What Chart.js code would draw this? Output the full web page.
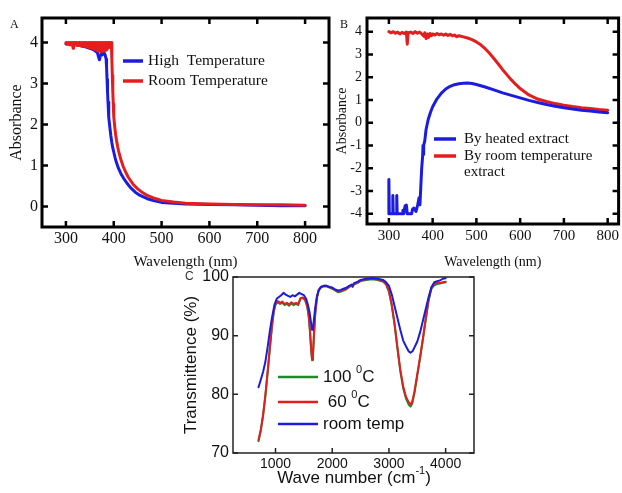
<!DOCTYPE html>
<html>
<head>
<meta charset="utf-8">
<script src="https://cdn.jsdelivr.net/npm/chart.js@4.4.0/dist/chart.umd.min.js"></script>
<style>
  body { margin: 0; background: #fff; }
  #wrap { position: relative; width: 622px; height: 493px; overflow: hidden; background: #fff; }
  canvas { position: absolute; }
</style>
</head>
<body>
<div id="wrap">
  <canvas id="chartA" width="335" height="275" style="left:0;top:0"></canvas>
  <canvas id="chartB" width="300" height="275" style="left:322px;top:0"></canvas>
  <canvas id="chartC" width="310" height="231" style="left:170px;top:262px"></canvas>
</div>
<script>
// ---- A: absorbance of the two extracts, wavelength in nm ----
const labelsA = ['High  Temperature', 'Room Temperature'];
const highTempA = [
  [300,3.97],[305,3.98],[310,3.99],[315,3.96],[320,3.95],[325,3.94],[330,3.93],[335,3.91],[340,3.9],
  [345,3.88],[350,3.86],[355,3.84],[360,3.81],[363,3.78],[366,3.75],[368,3.66],[370,3.58],[372,3.68],
  [374,3.72],[376,3.7],[378,3.76],[380,3.75],[382,3.7],[384,3.6],[385,3.4],[386,3.1],[387,2.8],
  [388,2.55],[389,2.35],[390,2.18],[392,1.92],[394,1.72],[396,1.56],[398,1.43],[400,1.33],[403,1.18],
  [406,1.06],[410,0.93],[415,0.8],[420,0.7],[427,0.58],[435,0.46],[445,0.35],[455,0.27],[470,0.19],
  [485,0.14],[500,0.1],[525,0.08],[550,0.06],[600,0.05],[650,0.04],[700,0.03],[750,0.02],[800,0.02]
];
const roomTempA = [
  [300,4.0],[301,3.96],[302,4.0],[304,3.96],[305,4.0],[307,3.95],[308,4.0],[310,3.95],[311,4.0],
  [313,3.93],[314,4.0],[315,3.86],[316,4.0],[318,3.94],[319,4.0],[321,3.94],[322,4.0],[324,3.93],
  [325,4.0],[327,3.93],[328,4.0],[330,3.92],[331,4.0],[333,3.92],[334,4.0],[336,3.91],[337,4.0],
  [339,3.91],[340,4.0],[342,3.9],[343,4.0],[345,3.89],[346,4.0],[348,3.88],[349,4.0],[351,3.87],
  [352,4.0],[354,3.86],[355,4.0],[357,3.85],[358,4.0],[360,3.84],[361,4.0],[363,3.82],[364,4.0],
  [366,3.8],[367,4.0],[369,3.79],[370,4.0],[372,3.78],[373,4.0],[375,3.78],[376,4.0],[378,3.79],
  [379,4.0],[381,3.8],[382,4.0],[384,3.82],[385,4.0],[387,3.85],[388,4.0],[390,3.88],[391,4.0],
  [393,3.92],[395,4.0],[396,3.6],[397,3.2],[398,2.8],[399,2.5],[400,2.2],[402,1.95],[404,1.75],
  [406,1.6],[408,1.47],[410,1.36],[415,1.14],[420,0.97],[425,0.84],[430,0.72],[440,0.55],[450,0.43],
  [460,0.34],[470,0.27],[485,0.2],[500,0.15],[525,0.11],[550,0.08],[600,0.06],[650,0.05],[700,0.04],
  [750,0.04],[800,0.03]
];
const xTicksA = [300, 400, 500, 600, 700, 800];
const yTicksA = [0, 1, 2, 3, 4];

// ---- B: absorbance, heated vs room temperature extract ----
const labelsB = ['By heated extract', 'By room temperature extract'];
const heatedB = [
  [300,-4.0],[300,-2.5],[301,-4.0],[309,-4.0],[309,-3.2],[310,-4.0],[318,-4.0],[318,-3.2],[319,-4.0],
  [331,-4.0],[332,-3.85],[334,-4.0],[337,-3.65],[340,-3.62],[342,-4.0],[352,-4.0],[354,-3.8],
  [357,-3.75],[362,-3.9],[366,-3.6],[369,-3.3],[371,-3.6],[373,-2.8],[375,-2.0],[377,-1.5],[378,-1.0],
  [379,-1.4],[380,-1.0],[382,-0.8],[385,-0.3],[390,0.15],[395,0.45],[400,0.7],[410,1.05],[420,1.3],
  [430,1.48],[440,1.6],[450,1.67],[460,1.71],[470,1.73],[480,1.74],[490,1.72],[500,1.68],[520,1.57],
  [540,1.44],[560,1.31],[580,1.2],[600,1.09],[620,0.98],[640,0.89],[660,0.8],[680,0.72],[700,0.66],
  [720,0.6],[740,0.55],[760,0.51],[780,0.47],[800,0.44]
];
const roomB = [
  [300,4.0],[305,3.95],[310,4.0],[315,3.93],[320,3.98],[325,3.9],[330,3.97],[335,3.92],[340,3.98],
  [342,3.45],[344,3.95],[350,3.98],[355,3.92],[360,4.0],[365,3.93],[370,3.98],[375,3.9],[380,3.8],
  [382,3.95],[385,3.7],[388,3.9],[391,3.75],[394,3.92],[397,3.82],[400,3.9],[405,3.85],[410,3.92],
  [415,3.86],[420,3.9],[425,3.84],[430,3.9],[435,3.83],[440,3.88],[445,3.82],[450,3.85],[455,3.78],
  [460,3.82],[470,3.77],[480,3.72],[490,3.65],[500,3.55],[510,3.42],[520,3.25],[530,3.05],[540,2.82],
  [550,2.58],[560,2.33],[570,2.1],[580,1.88],[590,1.68],[600,1.5],[620,1.22],[640,1.04],[660,0.93],
  [680,0.84],[700,0.77],[720,0.71],[740,0.66],[760,0.62],[780,0.58],[800,0.55]
];
const xTicksB = [300, 400, 500, 600, 700, 800];
const yTicksB = [-4, -3, -2, -1, 0, 1, 2, 3, 4];

// ---- C: FTIR transmittance, wave number in cm-1 ----
const labelsC = ['100 ⁰C', ' 60 ⁰C', 'room temp'];
const temp100C = [
  [700,72.0],[740,73.8],[780,76.3],[820,79.6],[860,83.6],[900,87.8],[940,91.8],[970,94.1],[1000,95.3],
  [1040,95.7],[1080,95.4],[1120,95.6],[1160,95.2],[1200,95.4],[1240,95.1],[1280,95.5],[1320,95.2],
  [1360,95.4],[1400,95.2],[1440,96.3],[1480,96.4],[1520,96.1],[1560,94.9],[1590,92.9],[1610,90.3],
  [1630,87.3],[1645,85.8],[1660,86.6],[1680,90.4],[1700,93.7],[1730,96.4],[1760,97.7],[1800,98.2],
  [1850,98.4],[1900,98.4],[1950,98.2],[2000,98.0],[2050,97.7],[2100,97.4],[2150,97.5],[2200,97.7],
  [2250,97.9],[2300,98.3],[2340,98.5],[2360,98.3],[2380,98.7],[2450,99.0],[2500,99.3],[2600,99.5],
  [2700,99.6],[2800,99.5],[2900,99.2],[2950,98.7],[3000,97.5],[3050,95.1],[3100,91.8],[3150,87.8],
  [3200,84.0],[3250,81.1],[3300,79.3],[3350,78.2],[3380,77.9],[3410,78.4],[3450,80.2],[3500,83.2],
  [3550,86.2],[3600,89.4],[3650,92.8],[3700,96.0],[3750,98.0],[3800,98.6],[3850,98.8],[3900,98.9],
  [3950,99.0],[4000,99.1]
];
const temp60C = [
  [700,72.2],[740,74.0],[780,76.5],[820,79.8],[860,83.8],[900,88.0],[940,92.0],[970,94.3],[1000,95.5],
  [1040,95.9],[1080,95.6],[1120,95.8],[1160,95.4],[1200,95.6],[1240,95.3],[1280,95.7],[1320,95.4],
  [1360,95.6],[1400,95.4],[1440,96.4],[1480,96.5],[1520,96.2],[1560,95.0],[1590,93.0],[1610,90.5],
  [1630,87.5],[1645,86.0],[1660,86.8],[1680,90.5],[1700,93.8],[1730,96.5],[1760,97.8],[1800,98.3],
  [1850,98.5],[1900,98.5],[1950,98.3],[2000,98.1],[2050,97.8],[2100,97.5],[2150,97.6],[2200,97.8],
  [2250,98.0],[2300,98.4],[2340,98.6],[2360,98.4],[2380,98.8],[2450,99.1],[2500,99.4],[2600,99.6],
  [2700,99.7],[2800,99.6],[2900,99.3],[2950,98.8],[3000,97.6],[3050,95.3],[3100,92.0],[3150,88.0],
  [3200,84.2],[3250,81.4],[3300,79.6],[3350,78.6],[3380,78.3],[3410,78.7],[3450,80.5],[3500,83.5],
  [3550,86.4],[3600,89.6],[3650,93.0],[3700,96.2],[3750,98.2],[3800,98.8],[3850,99.0],[3900,99.0],
  [3950,99.1],[4000,99.2]
];
const roomTempC = [
  [700,81.2],[740,82.5],[780,83.8],[820,85.5],[860,88.0],[900,90.8],[940,93.2],[980,95.2],[1020,96.3],
  [1060,96.6],[1100,96.9],[1140,97.3],[1180,97.0],[1220,96.8],[1260,96.6],[1300,96.9],[1340,96.7],
  [1380,97.0],[1420,97.3],[1460,97.1],[1500,96.9],[1540,96.3],[1570,95.3],[1600,94.0],[1625,92.3],
  [1645,91.0],[1660,91.2],[1680,93.0],[1700,94.8],[1730,96.7],[1760,97.7],[1800,98.3],[1850,98.5],
  [1900,98.5],[1950,98.3],[2000,98.2],[2050,97.9],[2100,97.7],[2150,97.8],[2200,98.0],[2250,98.2],
  [2300,98.5],[2340,98.7],[2360,98.5],[2380,98.9],[2450,99.2],[2500,99.5],[2600,99.7],[2700,99.8],
  [2800,99.7],[2900,99.5],[2950,99.1],[3000,98.5],[3050,97.0],[3100,95.0],[3150,93.0],[3200,91.0],
  [3250,89.2],[3300,88.2],[3350,87.3],[3380,87.1],[3420,87.4],[3460,88.2],[3500,89.0],[3550,90.6],
  [3600,92.6],[3650,94.6],[3700,96.6],[3750,98.3],[3800,99.1],[3850,99.3],[3900,99.4],[3950,99.7],
  [4000,99.8]
];
const xTicksC = [1000, 2000, 3000, 4000];
const yTicksC = [70, 80, 90, 100];

const SERIF = "'Liberation Serif', 'Times New Roman', serif";
const SANS = "'Liberation Sans', Arial, sans-serif";
const BLUE = '#1c1ce0', RED = '#e41e1e', GREEN = '#1f8a2a';

const toXY = arr => arr.map(([x, y]) => ({ x, y }));

// text with superscript glyphs (⁰ ⁻ ¹) drawn as raised small characters
const SUP = { '⁰': '0', '⁻': '-', '¹': '1' };
function drawRich(ctx, text, x, y, o) {
  const runs = [];
  for (const ch of text) {
    const sup = ch in SUP;
    const c = sup ? SUP[ch] : ch;
    const last = runs[runs.length - 1];
    if (last && last.sup === sup) last.s += c; else runs.push({ s: c, sup });
  }
  const big = `${o.size}px ${o.family}`;
  const small = `${Math.round(o.size * 0.62)}px ${o.family}`;
  let w = 0;
  for (const r of runs) { ctx.font = r.sup ? small : big; r.w = ctx.measureText(r.s).width; w += r.w; }
  let cx = o.align === 'center' ? x - w / 2 : x;
  ctx.fillStyle = o.color || '#000';
  ctx.textAlign = 'left';
  ctx.textBaseline = 'middle';
  for (const r of runs) {
    ctx.font = r.sup ? small : big;
    ctx.fillText(r.s, cx, r.sup ? y - o.size * 0.4 : y);
    cx += r.w;
  }
}

// boxed plot frame with inward tick marks
const framePlugin = {
  id: 'frame',
  afterDatasetsDraw(chart, args, opts) {
    const { ctx, chartArea: a, scales } = chart;
    ctx.save();
    ctx.strokeStyle = opts.color;
    ctx.lineWidth = opts.width;
    ctx.strokeRect(a.left, a.top, a.right - a.left, a.bottom - a.top);
    ctx.lineWidth = opts.tickWidth;
    ctx.beginPath();
    const len = opts.tickLength;
    for (const side of opts.sides) {
      const horiz = side === 'top' || side === 'bottom';
      const scale = horiz ? scales.x : scales.y;
      for (const t of scale.ticks) {
        const p = scale.getPixelForValue(t.value);
        if (horiz) {
          const y0 = side === 'top' ? a.top : a.bottom;
          ctx.moveTo(p, y0);
          ctx.lineTo(p, y0 + (side === 'top' ? len : -len));
        } else {
          const x0 = side === 'left' ? a.left : a.right;
          ctx.moveTo(x0, p);
          ctx.lineTo(x0 + (side === 'left' ? len : -len), p);
        }
      }
    }
    ctx.stroke();
    ctx.restore();
  }
};

// in-plot key, panel letter and titles that need superscripts
const notesPlugin = {
  id: 'notes',
  afterDraw(chart, args, opts) {
    const ctx = chart.ctx;
    ctx.save();
    for (const k of opts.keys || []) {
      const ds = chart.data.datasets[k.dataset];
      ctx.strokeStyle = ds.borderColor;
      ctx.lineWidth = k.lineWidth;
      ctx.beginPath();
      ctx.moveTo(k.x1, k.y);
      ctx.lineTo(k.x2, k.y);
      ctx.stroke();
      let lines = [ds.label];
      if (k.maxWidth) {
        // simple word wrap
        ctx.font = `${opts.font.size}px ${opts.font.family}`;
        lines = [];
        let cur = '';
        for (const word of ds.label.split(' ')) {
          const test = cur ? cur + ' ' + word : word;
          if (cur && ctx.measureText(test).width > k.maxWidth) { lines.push(cur); cur = word; }
          else cur = test;
        }
        lines.push(cur);
      }
      lines.forEach((ln, i) => drawRich(ctx, ln, k.tx, k.y + i * (k.lineGap || 0), opts.font));
    }
    for (const t of opts.texts || []) drawRich(ctx, t.text, t.x, t.y, t);
    ctx.restore();
  }
};

function panel(id, p) {
  const font = (size) => ({ size, family: p.family });
  return new Chart(document.getElementById(id), {
    type: 'line',
    data: { datasets: p.datasets },
    plugins: [framePlugin, notesPlugin],
    options: {
      responsive: false,
      animation: false,
      devicePixelRatio: 1,
      layout: { padding: p.padding },
      elements: {
        point: { radius: 0 },
        line: { borderWidth: p.lineWidth, tension: 0, borderJoinStyle: 'round', borderCapStyle: 'round' }
      },
      plugins: {
        legend: { display: false },
        tooltip: { enabled: false },
        frame: p.frame,
        notes: p.notes
      },
      scales: {
        x: {
          type: 'linear', min: p.xMin, max: p.xMax,
          grid: { display: false, drawTicks: false },
          border: { display: false },
          afterBuildTicks: s => { s.ticks = p.xTicks.map(v => ({ value: v })); },
          afterFit: s => { s.height = p.xHeight; },
          ticks: { font: font(p.xTickSize), color: '#111', padding: p.xTickPad, maxRotation: 0, callback: v => String(v) },
          title: p.xTitle
            ? { display: true, text: p.xTitle, font: font(p.titleSize), color: '#111', padding: { top: 0, bottom: p.xTitlePad } }
            : { display: false }
        },
        y: {
          min: p.yMin, max: p.yMax,
          grid: { display: false, drawTicks: false },
          border: { display: false },
          afterBuildTicks: s => { s.ticks = p.yTicks.map(v => ({ value: v })); },
          afterFit: s => { s.width = p.yWidth; },
          ticks: { font: font(p.yTickSize), color: '#111', padding: p.yTickPad, callback: v => String(v) },
          title: { display: true, text: p.yTitle, font: font(p.yTitleSize || p.titleSize), color: '#111', padding: { top: p.yTitlePad, bottom: 0 } }
        }
      }
    }
  });
}

panel('chartA', {
  family: SERIF,
  datasets: [
    { label: labelsA[0], data: toXY(highTempA), borderColor: BLUE, order: 1 },
    { label: labelsA[1], data: toXY(roomTempA), borderColor: RED, order: 0 }
  ],
  lineWidth: 3,
  padding: { top: 18, right: 6, left: 0, bottom: 0 },
  xMin: 250, xMax: 850, yMin: -0.5, yMax: 4.6,
  xTicks: xTicksA, yTicks: yTicksA,
  xHeight: 48, yWidth: 42,
  xTickSize: 16, yTickSize: 16, xTickPad: 2, yTickPad: 4,
  titleSize: 15, xTitle: 'Wavelength (nm)', xTitlePad: 4,
  yTitle: 'Absorbance', yTitleSize: 16, yTitlePad: 7,
  frame: { color: '#000', width: 3, tickWidth: 2.5, tickLength: 6, sides: ['top', 'bottom', 'left', 'right'] },
  notes: {
    font: { size: 15.5, family: SERIF, color: '#111' },
    keys: [
      { dataset: 0, x1: 123, x2: 143, y: 61, tx: 148, lineWidth: 3.5 },
      { dataset: 1, x1: 123, x2: 143, y: 81, tx: 148, lineWidth: 3.5 }
    ],
    texts: [{ text: 'A', x: 10, y: 25, size: 12, family: SERIF, color: '#111' }]
  }
});

panel('chartB', {
  family: SERIF,
  datasets: [
    { label: labelsB[0], data: toXY(heatedB), borderColor: BLUE },
    { label: labelsB[1], data: toXY(roomB), borderColor: RED }
  ],
  lineWidth: 3,
  padding: { top: 18, right: 2, left: 0, bottom: 0 },
  xMin: 250, xMax: 825, yMin: -4.45, yMax: 4.6,
  xTicks: xTicksB, yTicks: yTicksB,
  xHeight: 51, yWidth: 45,
  xTickSize: 15, yTickSize: 14, xTickPad: 3, yTickPad: 5,
  titleSize: 14, xTitle: 'Wavelength (nm)', xTitlePad: 4,
  yTitle: 'Absorbance', yTitlePad: 12,
  frame: { color: '#000', width: 3, tickWidth: 2.5, tickLength: 6, sides: ['top', 'bottom', 'left', 'right'] },
  notes: {
    font: { size: 15, family: SERIF, color: '#111' },
    keys: [
      { dataset: 0, x1: 112, x2: 134, y: 139, tx: 142, lineWidth: 3.5, maxWidth: 150, lineGap: 16.5 },
      { dataset: 1, x1: 112, x2: 134, y: 156, tx: 142, lineWidth: 3.5, maxWidth: 150, lineGap: 16.5 }
    ],
    texts: [{ text: 'B', x: 18, y: 25, size: 12, family: SERIF, color: '#111' }]
  }
});

panel('chartC', {
  family: SANS,
  datasets: [
    { label: labelsC[0], data: toXY(temp100C), borderColor: GREEN, order: 2 },
    { label: labelsC[1], data: toXY(temp60C), borderColor: RED, order: 1 },
    { label: labelsC[2], data: toXY(roomTempC), borderColor: BLUE, order: 0 }
  ],
  lineWidth: 2,
  padding: { top: 15, right: 6, left: 0, bottom: 0 },
  xMin: 250, xMax: 4500, yMin: 70, yMax: 100,
  xTicks: xTicksC, yTicks: yTicksC,
  xHeight: 40, yWidth: 63,
  xTickSize: 14, yTickSize: 16, xTickPad: 3, yTickPad: 4,
  titleSize: 17, xTitle: null,
  yTitle: 'Transmittence (%)', yTitlePad: 11,
  frame: { color: '#222', width: 1.5, tickWidth: 1.5, tickLength: 5, sides: ['bottom', 'left', 'right'] },
  notes: {
    font: { size: 17, family: SANS, color: '#111' },
    keys: [
      { dataset: 0, x1: 108, x2: 148, y: 115, tx: 153, lineWidth: 2.5 },
      { dataset: 1, x1: 108, x2: 148, y: 140, tx: 153, lineWidth: 2.5 },
      { dataset: 2, x1: 108, x2: 148, y: 162, tx: 153, lineWidth: 2.5 }
    ],
    texts: [
      { text: 'C', x: 15, y: 15, size: 12, family: SANS, color: '#333' },
      { text: 'Wave number (cm⁻¹)', x: 184, y: 216, size: 17, family: SANS, color: '#111', align: 'center' }
    ]
  }
});
</script>
</body>
</html>
